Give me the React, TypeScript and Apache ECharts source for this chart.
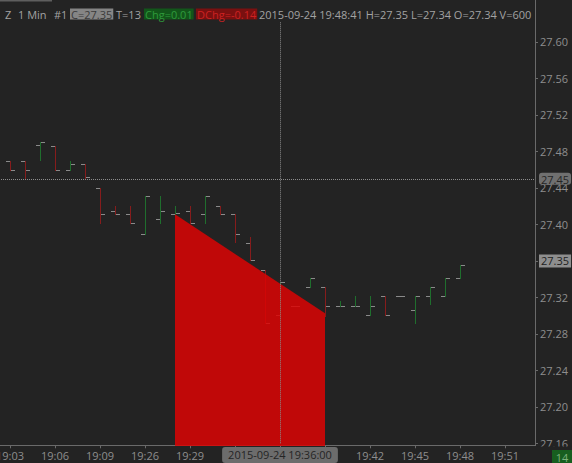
import React, { useEffect, useRef } from 'react';
import * as echarts from 'echarts';

// ---- data ----
const categories = [
  '19:02', '19:03', '19:04', '19:05', '19:06', '19:07', '19:08', '19:09', '19:10',
  '19:25', '19:26', '19:27', '19:28', '19:29', '19:30', '19:31', '19:32', '19:33',
  '19:35', '19:36', '19:37', '19:38', '19:39', '19:40', '19:41', '19:42', '19:43',
  '19:44', '19:45', '19:46', '19:47', '19:48', '19:49', '19:50', '19:51', '19:52', '19:53',
];
const firstBarTime = '19:03';
const opens = [27.47, 27.47, 27.487, 27.486, 27.46, 27.466, 27.44, 27.415, 27.411, 27.39, 27.406, 27.411, 27.415, 27.411, 27.42, 27.411, 27.38, 27.35, 27.301, 27.311, 27.331, 27.331, 27.311, 27.311, 27.301, 27.321, 27.321, 27.306, 27.321, 27.321, 27.341];
const highs = [27.47, 27.47, 27.49, 27.486, 27.47, 27.466, 27.44, 27.42, 27.42, 27.431, 27.431, 27.42, 27.42, 27.431, 27.42, 27.411, 27.386, 27.35, 27.337, 27.311, 27.341, 27.331, 27.316, 27.321, 27.321, 27.321, 27.321, 27.321, 27.331, 27.341, 27.355];
const lows = [27.46, 27.451, 27.471, 27.46, 27.46, 27.451, 27.402, 27.411, 27.401, 27.39, 27.402, 27.411, 27.401, 27.402, 27.411, 27.381, 27.361, 27.292, 27.3, 27.311, 27.331, 27.3, 27.311, 27.311, 27.301, 27.301, 27.321, 27.292, 27.313, 27.321, 27.341];
const closes = [27.46, 27.46, 27.49, 27.46, 27.466, 27.452, 27.411, 27.411, 27.401, 27.431, 27.415, 27.413, 27.401, 27.431, 27.411, 27.39, 27.361, 27.292, 27.337, 27.311, 27.341, 27.311, 27.311, 27.311, 27.311, 27.301, 27.321, 27.321, 27.331, 27.341, 27.355];

// drawn trend-fill object
const fillStart = { time: '19:28', price: 27.411 };
const fillEnd = { time: '19:39', price: 27.3025 };
const fillFloor = 27.157;

// axis
const yMin = 27.16;
const yMax = 27.64;
const yStep = 0.04;

// crosshair
const crossTime = '19:36';
const crossDate = '2015-09-24';
const crossPrice = 27.45;

// header
const headerTime = '2015-09-24 19:48:41';
const header = { sym: 'Z', period: '1 Min', num: '#1', T: '13', chg: '0.01', dchg: '-0.14', H: '27.35', L: '27.34', O: '27.34', V: '600' };
const countdown = '14';

// ---- styles ----
const BG = '#232323';
const UP = '#1f6e2d';
const DOWN = '#861c1c';
const TICK = '#8a8a8a';
const AXIS = '#6a6a6a';
const LABEL = '#8e8e8e';
const FONT = "'Open Sans', 'Noto Sans', sans-serif";

const lastClose = closes[closes.length - 1];
const lastLabel = (Math.floor(lastClose * 100 + 1e-6) / 100).toFixed(2);

const startIdx = categories.indexOf(firstBarTime);
const crossIdx = categories.indexOf(crossTime);
const barData = opens.map((o, i) => [startIdx + i, o, highs[i], lows[i], closes[i]]);
const fillData = [[categories.indexOf(fillStart.time), fillStart.price, categories.indexOf(fillEnd.time), fillEnd.price, fillFloor]];

const labelEvery = (i: number) => i % 3 === startIdx % 3;
// labels covered by the crosshair time box are not drawn
const labelVisible = (i: number) => labelEvery(i) && Math.abs(i - crossIdx) > 3;

function buildOption(): any {
  const px = (v: number) => Math.round(v) + 0.5;
  return {
    animation: false,
    backgroundColor: BG,
    textStyle: { fontFamily: FONT },
    grid: { left: -5, top: 5.5, width: 540, height: 437.8, containLabel: false, outerBoundsMode: 'none' },
    xAxis: {
      type: 'category',
      data: categories,
      boundaryGap: false,
      offset: 2,
      axisLine: { lineStyle: { color: AXIS } },
      axisTick: { show: true, length: 3, interval: labelEvery, lineStyle: { color: AXIS } },
      axisLabel: { interval: labelVisible, color: LABEL, fontSize: 11, margin: 5, fontFamily: FONT, hideOverlap: false },
      splitLine: { show: false },
      axisPointer: {
        show: true,
        type: 'line',
        value: crossIdx,
        status: 'show',
        triggerOn: 'none',
        triggerTooltip: false,
        lineStyle: { color: '#8c8c8c', type: 'dotted', width: 1 },
        label: {
          show: true,
          formatter: () => `${crossDate} ${crossTime}:00`,
          backgroundColor: '#6c6c6c',
          color: '#252525',
          fontSize: 11,
          fontFamily: FONT,
          padding: [2, 6, 3, 6],
          margin: 3,
        },
      },
    },
    yAxis: {
      type: 'value',
      position: 'right',
      min: yMin,
      max: yMax,
      interval: yStep,
      scale: true,
      axisLine: { show: true, lineStyle: { color: AXIS } },
      axisTick: { show: true, length: 3, lineStyle: { color: AXIS } },
      axisLabel: {
        color: LABEL, fontSize: 11, margin: 5, fontFamily: FONT,
        showMaxLabel: false,
        // the tick label under the last-price box is covered
        formatter: (v: number) => (Math.abs(v - lastClose) < 0.008 ? '' : v.toFixed(2)),
      },
      splitLine: { show: false },
      axisPointer: {
        show: true,
        type: 'line',
        value: crossPrice,
        status: 'show',
        triggerOn: 'none',
        triggerTooltip: false,
        lineStyle: { color: '#8c8c8c', type: 'dotted', width: 1 },
        label: {
          show: true,
          formatter: () => crossPrice.toFixed(2),
          backgroundColor: '#707070',
          color: '#252525',
          fontSize: 11,
          fontFamily: FONT,
          padding: [1, 2, 0, 2],
          margin: 4,
        },
      },
    },
    series: [
      {
        type: 'custom',
        name: 'bars',
        z: 2,
        encode: { x: 0, y: [1, 2, 3, 4] },
        data: barData,
        renderItem: (params: any, api: any) => {
          const xi = api.value(0);
          const o = api.value(1), h = api.value(2), l = api.value(3), c = api.value(4);
          const x = Math.round(api.coord([xi, o])[0]);
          const yO = px(api.coord([xi, o])[1]);
          const yH = px(api.coord([xi, h])[1]);
          const yL = px(api.coord([xi, l])[1]);
          const yC = px(api.coord([xi, c])[1]);
          const up = c >= o;
          const children: any[] = [];
          children.push({ type: 'line', shape: { x1: x - 4, y1: yO, x2: x + (yL > yH ? 0 : 1), y2: yO }, style: { stroke: TICK, lineWidth: 1 } });
          children.push({ type: 'line', shape: { x1: x + 1, y1: yC, x2: x + 5, y2: yC }, style: { stroke: TICK, lineWidth: 1 } });
          if (yL > yH) {
            children.push({ type: 'line', shape: { x1: x + 0.5, y1: yH - 0.5, x2: x + 0.5, y2: yL + 0.5 }, style: { stroke: up ? UP : DOWN, lineWidth: 1 } });
          }
          return { type: 'group', children };
        },
        markLine: {
          silent: true,
          symbol: ['none', 'none'],
          lineStyle: { color: 'transparent', width: 0 },
          label: {
            show: true,
            position: 'end',
            distance: 4,
            formatter: () => lastLabel,
            backgroundColor: '#8e8e8e',
            color: '#1e1e1e',
            fontSize: 11,
            fontFamily: FONT,
            padding: [1, 2, 1, 2],
          },
          data: [{ yAxis: lastClose }],
        },
      },
      {
        type: 'custom',
        name: 'fill',
        z: 3,
        clip: false,
        encode: { x: 0, y: 1 },
        data: fillData,
        renderItem: (params: any, api: any) => {
          const a = api.coord([api.value(0), api.value(1)]);
          const b = api.coord([api.value(2), api.value(3)]);
          const bb = api.coord([api.value(2), api.value(4)]);
          const ab = api.coord([api.value(0), api.value(4)]);
          return {
            type: 'polygon',
            shape: { points: [a, b, bb, ab] },
            style: { fill: 'rgba(220,4,4,0.85)', stroke: null },
          };
        },
      },
    ],
    graphic: [
      // header mask and top strip
      { type: 'rect', z: 100, shape: { x: 0, y: 0, width: 534.5, height: 22 }, style: { fill: BG } },
      { type: 'rect', z: 101, shape: { x: 0, y: 0, width: 52, height: 1.5 }, style: { fill: '#5e5e5e' } },
      // full right axis line
      { type: 'line', z: 101, shape: { x1: 535.5, y1: 0, x2: 535.5, y2: 446 }, style: { stroke: AXIS, lineWidth: 1 } },
      // bottom right mask
      { type: 'rect', z: 100, shape: { x: 536, y: 446.5, width: 36, height: 17 }, style: { fill: BG } },
      { type: 'rect', z: 101, shape: { x: 552, y: 450, width: 20, height: 13 }, style: { fill: '#175e1f' } },
      { type: 'text', z: 102, style: { text: countdown, x: 562, y: 457, align: 'center', verticalAlign: 'middle', fill: '#7db27d', font: `11px ${FONT}` } },
      // header texts
      { type: 'text', z: 102, style: { text: header.sym, x: 5, y: 14, verticalAlign: 'middle', fill: '#a2a2a2', font: `11px ${FONT}` } },
      { type: 'text', z: 102, style: { text: header.period, x: 18, y: 14, verticalAlign: 'middle', fill: '#a2a2a2', font: `11px ${FONT}` } },
      { type: 'text', z: 102, style: { text: header.num, x: 54, y: 14, verticalAlign: 'middle', fill: '#a2a2a2', font: `11px ${FONT}` } },
      { type: 'text', z: 102, style: { text: `C=${lastLabel}`, x: 70, y: 14, verticalAlign: 'middle', fill: '#3a3a3a', backgroundColor: '#858585', padding: [0, 1, 0, 1], font: `11px ${FONT}` } },
      { type: 'text', z: 102, style: { text: `T=${header.T}`, x: 116, y: 14, verticalAlign: 'middle', fill: '#a2a2a2', font: `11px ${FONT}` } },
      { type: 'text', z: 102, style: { text: `Chg=${header.chg}`, x: 144, y: 14, verticalAlign: 'middle', fill: '#2f9a3c', backgroundColor: '#12561a', padding: [0, 1, 0, 1], font: `11px ${FONT}` } },
      { type: 'text', z: 102, style: { text: `DChg=${header.dchg}`, x: 196, y: 14, verticalAlign: 'middle', fill: '#cc2222', backgroundColor: '#7a1010', padding: [0, 1, 0, 1], font: `11px ${FONT}` } },
      { type: 'text', z: 102, style: { text: `${headerTime} H=${header.H} L=${header.L} O=${header.O} V=${header.V}`, x: 259, y: 14, verticalAlign: 'middle', fill: '#a2a2a2', font: `11px ${FONT}` } },
    ],
  };
}

export default function App() {
  const ref = useRef<HTMLDivElement>(null);
  useEffect(() => {
    if (!ref.current) return;
    const chart = echarts.init(ref.current, null, { renderer: 'svg' });
    chart.setOption(buildOption());
    return () => chart.dispose();
  }, []);
  return <div ref={ref} style={{ position: 'fixed', left: 0, top: 0, width: 572, height: 463 }} />;
}
